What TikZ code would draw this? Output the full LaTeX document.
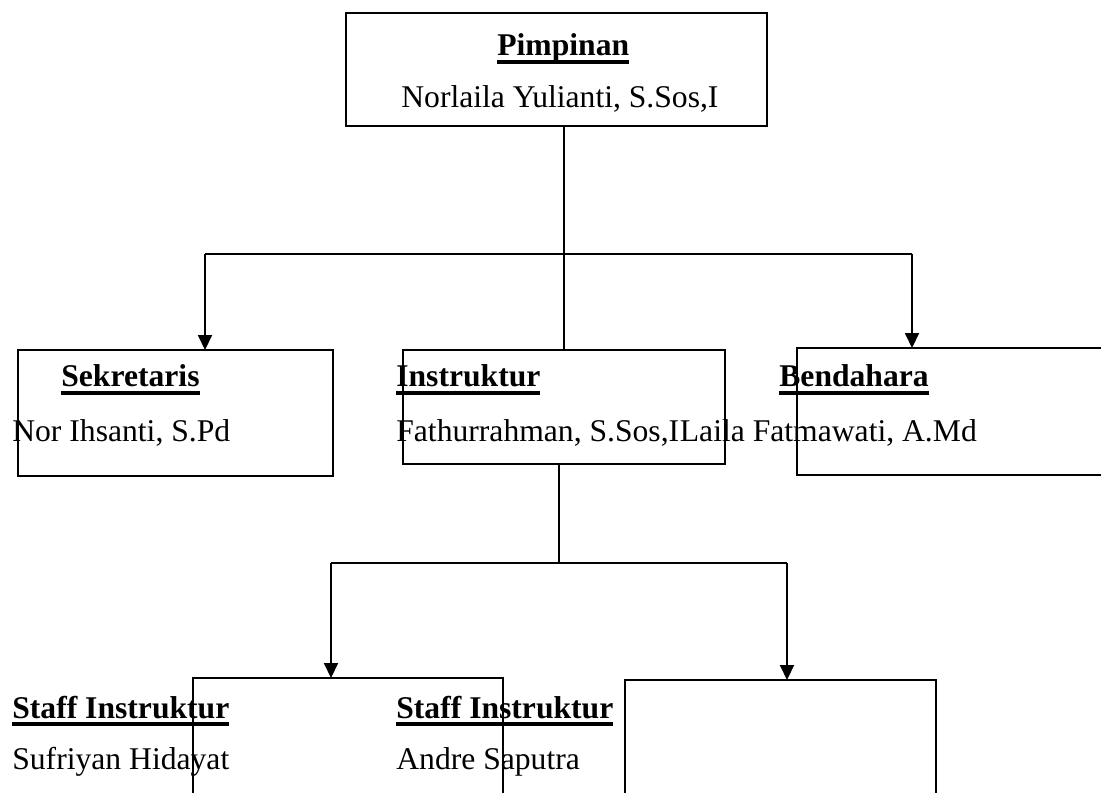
\documentclass[tikz,border=0pt]{standalone}
\usepackage{fontspec}
\setmainfont{Liberation Serif}
\usetikzlibrary{arrows.meta}

% bold title with a thick underline
\newcommand{\jabatan}[1]{\setbox0\hbox{\bfseries #1}\rlap{\vrule height -2.4pt depth 4.4pt width \wd0}\box0}

\tikzset{
    kotak/.style={draw, line width=0.75pt, inner sep=0pt, outer sep=0pt},
    teks/.style={anchor=base west, inner sep=0pt, font=\fontsize{18}{22}\selectfont},
    garis/.style={line width=1.1pt},
    panah/.style={line width=1.1pt, -{Triangle[width=0.28cm,length=0.3cm]}}
}

\begin{document}
\begin{tikzpicture}[x=0.02cm, y=-0.02cm]
    \path[use as bounding box] (0,0) rectangle (1101,793);
    \clip (0,0) rectangle (1101,793);

    % Draw boxes
    \node[kotak, minimum width=8.42cm, minimum height=2.26cm] (pim) at (556.5,69.5) {};
    \node[kotak, minimum width=6.3cm, minimum height=2.52cm] (sek) at (175.5,413) {};
    \node[kotak, minimum width=6.44cm, minimum height=2.28cm] (ins) at (564,407) {};
    \node[kotak, minimum width=6.5cm, minimum height=2.54cm] (ben) at (959.5,411.5) {};
    \node[kotak, minimum width=6.2cm, minimum height=3.04cm] (stfa) at (348,754) {};
    \node[kotak, minimum width=6.22cm, minimum height=3.0cm] (stfb) at (780.5,755) {};

    % Texts
    \node[teks] (t-pim) at (497,56) {\jabatan{Pimpinan}};
    \node[teks] (n-pim) at (401,108) {Norlaila Yulianti, S.Sos,I};
    \node[teks] (t-sek) at (61,387) {\jabatan{Sekretaris}};
    \node[teks] (n-sek) at (12,441) {Nor Ihsanti, S.Pd};
    \node[teks] (t-ins) at (396,387) {\jabatan{Instruktur}};
    \node[teks] (n-ins) at (396,441) {Fathurrahman, S.Sos,I};
    \node[teks] (n-ben) at (n-ins.base east) {Laila Fatmawati, A.Md};
    \node[teks] (t-ben) at (779,387) {\jabatan{Bendahara}};
    \node[teks] (t-stfa) at (12,718) {\jabatan{Staff Instruktur}};
    \node[teks] (n-stfa) at (12,769) {Sufriyan Hidayat};
    \node[teks] (t-stfb) at (396,718) {\jabatan{Staff Instruktur}};
    \node[teks] (n-stfb) at (396,769) {Andre Saputra};

    % Upper connectors
    \coordinate (jl) at (205,254);
    \coordinate (jr) at (912,254);
    \draw[garis] (ins.north) -- (ins.north |- pim.south);
    \draw[garis] (jl) -- (jr);
    \draw[panah] (jl) -- (jl |- sek.north);
    \draw[panah] (jr) -- (jr |- ben.north);

    % Lower connectors
    \coordinate (jm) at (559,563);
    \coordinate (bl) at (331,563);
    \coordinate (br) at (787,563);
    \draw[garis] (jm |- ins.south) -- (jm);
    \draw[garis] (bl) -- (br);
    \draw[panah] (bl) -- (bl |- stfa.north);
    \draw[panah] (br) -- (br |- stfb.north);
\end{tikzpicture}
\end{document}
